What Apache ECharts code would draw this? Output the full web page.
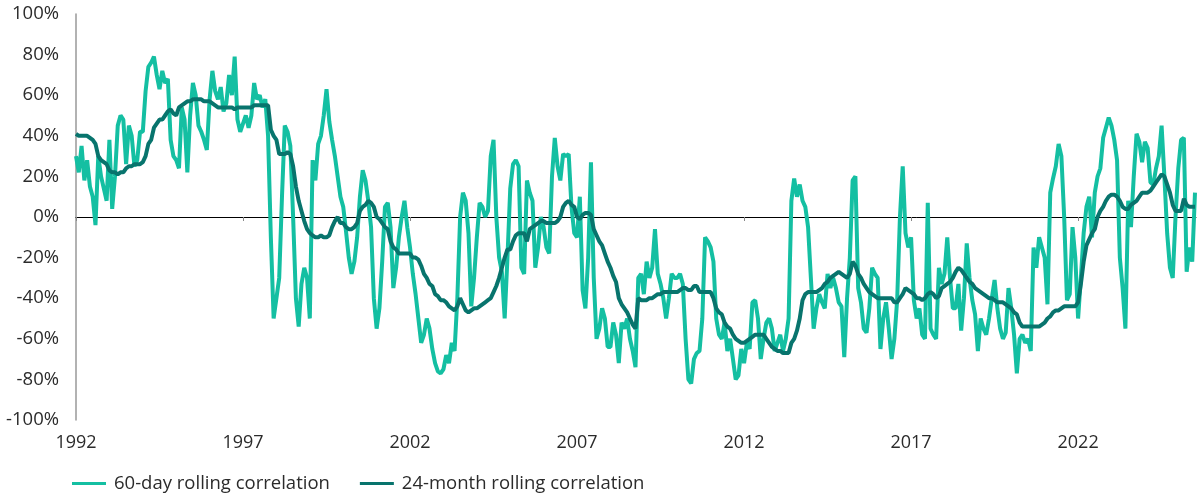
<!DOCTYPE html>
<html><head><meta charset="utf-8">
<script src="https://cdn.jsdelivr.net/npm/echarts@6/dist/echarts.min.js"></script>
<style>html,body{margin:0;padding:0;background:#fff}#c{width:1200px;height:497px}</style>
</head><body><div id="c"></div>
<script>
// Monthly observations starting January 1992 (values in %)
const startYear = 1992;
const tickYears = [1992, 1997, 2002, 2007, 2012, 2017, 2022];
const yTicks = [-100, -80, -60, -40, -20, 0, 20, 40, 60, 80, 100];
const seriesNames = ['60-day rolling correlation', '24-month rolling correlation'];

const rolling60d = [
  // 1992
  30, 22, 35, 18, 28, 15, 10, -4, 30, 20, 14, 8,
  // 1993
  38, 4, 20, 45, 50, 48, 26, 45, 40, 25, 28, 42,
  // 1994
  42, 62, 74, 76, 79, 70, 63, 72, 66, 68, 38, 30,
  // 1995
  28, 24, 54, 48, 22, 50, 66, 60, 45, 42, 38, 33,
  // 1996
  58, 72, 62, 58, 64, 52, 56, 70, 60, 79, 48, 42,
  // 1997
  46, 50, 44, 50, 66, 58, 60, 54, 58, 40, -10, -50,
  // 1998
  -40, -30, 10, 45, 42, 35, 0, -40, -54, -33, -25, -30,
  // 1999
  -50, 28, 18, 36, 40, 50, 63, 47, 38, 30, 20, 10,
  // 2000
  5, -7, -20, -28, -22, -10, 10, 23, 18, 8, -5, -40,
  // 2001
  -55, -45, -22, 5, 7, -5, -35, -25, -10, 0, 8, -5,
  // 2002
  -15, -28, -38, -50, -62, -58, -50, -55, -65, -72, -76, -77,
  // 2003
  -75, -68, -72, -62, -66, -40, 0, 12, 8, -8, -44, -30,
  // 2004
  -10, 7, 5, 0, 3, 30, 38, 0, -20, -27, -50, -20,
  // 2005
  14, 26, 28, 25, -25, -28, 18, 12, 8, -25, -15, 0,
  // 2006
  -5, -15, -18, 20, 39, 25, 18, 31, 30, 31, 5, -8,
  // 2007
  -10, 10, -36, -45, -20, 27, -30, -60, -55, -45, -50, -64,
  // 2008
  -64, -52, -58, -72, -52, -55, -50, -60, -66, -74, -30, -28,
  // 2009
  -38, -22, -30, -25, -6, -28, -33, -40, -50, -40, -28, -30,
  // 2010
  -30, -28, -33, -60, -80, -82, -70, -67, -66, -50, -10, -12,
  // 2011
  -15, -22, -50, -58, -60, -52, -66, -60, -70, -80, -78, -65,
  // 2012
  -72, -62, -65, -42, -41, -50, -70, -60, -52, -50, -55, -66,
  // 2013
  -62, -58, -66, -60, -50, 8, 19, 10, 16, 8, 5, -5,
  // 2014
  -30, -55, -45, -38, -42, -45, -28, -35, -30, -35, -42, -44,
  // 2015
  -69, -40, -20, 18, 20, -35, -42, -55, -57, -45, -25, -28,
  // 2016
  -30, -65, -50, -42, -55, -70, -60, -41, 0, 25, -8, -15,
  // 2017
  -10, -41, -50, -45, -58, -60, 7, -55, -58, -60, -25, -33,
  // 2018
  -28, -10, -30, -45, -45, -33, -56, -40, -13, -30, -41, -48,
  // 2019
  -66, -50, -55, -58, -50, -40, -31, -45, -55, -60, -57, -35,
  // 2020
  -45, -58, -77, -60, -58, -62, -60, -66, -15, -25, -10, -15,
  // 2021
  -20, -43, 12, 19, 25, 36, 30, 0, -41, -38, -5, -20,
  // 2022
  -50, -30, -8, 5, 10, -10, 12, 20, 24, 39, 44, 49,
  // 2023
  45, 38, 28, -20, -35, -55, 8, -5, 20, 41, 37, 27,
  // 2024
  37, 34, 17, 16, 24, 30, 45, 20, -8, -25, -30, 0,
  // 2025
  24, 38, 39, -27, -15, -22, 12
];

const rolling24m = [
  // 1992
  41, 40, 40, 40, 40, 39, 38, 36, 30, 28, 27, 26,
  // 1993
  23, 22, 22, 21, 22, 22, 24, 25, 25, 26, 26, 26,
  // 1994
  27, 30, 36, 38, 44, 46, 48, 48, 50, 52, 53, 51,
  // 1995
  50, 54, 55, 56, 57, 57, 58, 58, 58, 58, 57, 57,
  // 1996
  57, 56, 55, 54, 54, 54, 54, 54, 54, 53, 54, 54,
  // 1997
  54, 54, 54, 54, 55, 55, 55, 55, 55, 55, 43, 40,
  // 1998
  38, 31, 31, 31, 32, 31, 25, 15, 8, 3, -2, -6,
  // 1999
  -8, -9, -10, -10, -9, -10, -10, -9, -5, -2, 0, -3,
  // 2000
  -3, -5, -6, -6, -5, -3, 3, 5, 6, 8, 7, 5,
  // 2001
  0, -1, -3, -5, -6, -12, -15, -16, -18, -18, -18, -18,
  // 2002
  -18, -20, -20, -21, -24, -28, -30, -33, -34, -38, -39, -41,
  // 2003
  -41, -42, -44, -45, -46, -44, -40, -43, -46, -47, -46, -45,
  // 2004
  -45, -44, -43, -42, -41, -40, -37, -34, -30, -25, -20, -16,
  // 2005
  -16, -12, -9, -8, -8, -8, -12, -6, -5, -4, -3, -2,
  // 2006
  -2, -3, -3, -3, -3, -2, 0, 5, 7, 8, 6, 5,
  // 2007
  0, -1, 1, 2, 2, 1, -6, -9, -12, -14, -18, -22,
  // 2008
  -25, -29, -32, -40, -43, -45, -47, -50, -53, -55, -40, -41,
  // 2009
  -41, -41, -40, -40, -39, -38, -38, -37, -37, -37, -37, -37,
  // 2010
  -37, -36, -35, -35, -36, -36, -34, -34, -37, -37, -37, -37,
  // 2011
  -37, -40, -45, -47, -48, -52, -54, -55, -58, -60, -61, -62,
  // 2012
  -62, -61, -60, -59, -58, -58, -58, -58, -60, -62, -64, -65,
  // 2013
  -66, -66, -67, -67, -67, -62, -60, -56, -50, -41, -38, -37,
  // 2014
  -37, -37, -37, -36, -35, -33, -32, -30, -29, -28, -27, -28,
  // 2015
  -29, -30, -28, -22, -24, -28, -30, -33, -35, -37, -38, -39,
  // 2016
  -40, -40, -40, -40, -40, -40, -42, -42, -40, -38, -35, -36,
  // 2017
  -37, -38, -40, -40, -41, -40, -38, -37, -38, -40, -39, -35,
  // 2018
  -34, -33, -32, -30, -27, -25, -26, -28, -30, -32, -33, -35,
  // 2019
  -36, -37, -38, -39, -40, -40, -41, -42, -42, -42, -43, -44,
  // 2020
  -45, -47, -48, -52, -54, -54, -54, -54, -54, -54, -54, -53,
  // 2021
  -52, -50, -49, -47, -46, -46, -45, -44, -44, -44, -44, -44,
  // 2022
  -42, -33, -22, -14, -11, -8, -6, 0, 3, 5, 8, 10,
  // 2023
  11, 11, 10, 8, 5, 4, 4, 6, 7, 8, 10, 12,
  // 2024
  12, 12, 13, 15, 17, 19, 21, 20, 16, 12, 6, 3,
  // 2025
  3, 3, 9, 6, 5, 5, 5
];

const toPairs = arr => arr.map((v, i) => [startYear + i / 12, v]);
const FONT = '"Open Sans", "Noto Sans", sans-serif';
const TXT = '#2b2b2b';
const LIGHT = '#14bfa2';
const DARK = '#08746d';

const chart = echarts.init(document.getElementById('c'), null, {renderer: 'canvas'});
chart.setOption({
  animation: false,
  backgroundColor: '#ffffff',
  grid: {left: 76, right: 4, top: 14, bottom: 77, containLabel: false},
  legend: {
    left: 72, top: 474, padding: 0,
    icon: 'rect', itemWidth: 34, itemHeight: 3, itemGap: 30,
    textStyle: {fontFamily: FONT, fontSize: 18.5, color: TXT, padding: [0, 0, 0, 3]},
    data: seriesNames
  },
  xAxis: [{
    type: 'value', min: 1992, max: 2025.53, interval: 5,
    axisLine: {show: true, onZero: true, lineStyle: {color: '#000', width: 1}},
    axisTick: {show: true, length: 4, customValues: tickYears, lineStyle: {color: '#888', width: 1}},
    axisLabel: {show: false},
    splitLine: {show: false}
  }, {
    type: 'value', min: 1992, max: 2025.53, interval: 5, position: 'bottom',
    axisLine: {show: false, onZero: false},
    axisTick: {show: false},
    axisLabel: {show: true, customValues: tickYears, margin: 14, fontFamily: FONT, fontSize: 18, color: TXT,
      formatter: v => String(Math.round(v))},
    splitLine: {show: false}
  }],
  yAxis: {
    type: 'value', min: -100, max: 100, interval: 20,
    axisLine: {show: true, lineStyle: {color: '#999', width: 1.5}},
    axisTick: {show: false},
    splitLine: {show: false},
    axisLabel: {margin: 17, fontFamily: FONT, fontSize: 18.5, color: TXT, customValues: yTicks, formatter: '{value}%'}
  },
  series: [{
    name: seriesNames[0], type: 'line', xAxisIndex: 0, data: toPairs(rolling60d),
    symbol: 'none', showSymbol: false, z: 2,
    lineStyle: {color: LIGHT, width: 4}, itemStyle: {color: LIGHT}
  }, {
    name: seriesNames[1], type: 'line', xAxisIndex: 0, data: toPairs(rolling24m),
    symbol: 'none', showSymbol: false, z: 3,
    lineStyle: {color: DARK, width: 4}, itemStyle: {color: DARK}
  }]
});
</script></body></html>
